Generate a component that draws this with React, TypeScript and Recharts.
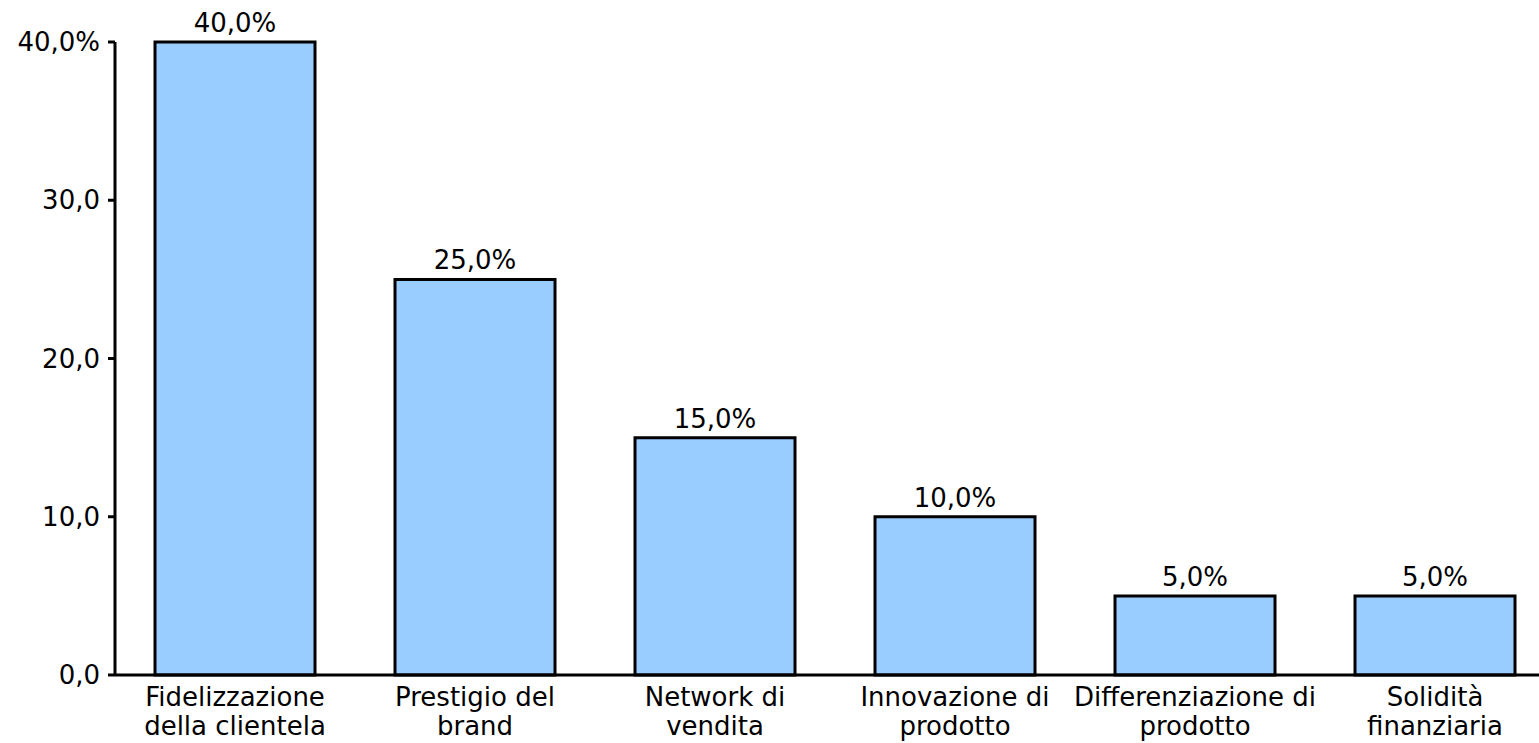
import React from 'react';
import { BarChart, Bar, XAxis, YAxis, LabelList } from 'recharts';

const categories = [
  'Fidelizzazione\ndella clientela',
  'Prestigio del\nbrand',
  'Network di\nvendita',
  'Innovazione di\nprodotto',
  'Differenziazione di\nprodotto',
  'Solidità\nfinanziaria',
];
const shares = [40, 25, 15, 10, 5, 5];
const yTicks = [0, 10, 20, 30, 40];

const data = categories.map((name, i) => ({ name, value: shares[i] }));

const FONT = 'Verdana, "DejaVu Sans", sans-serif';
const fmt = (v: number) => v.toFixed(1).replace('.', ',');

// two-line category labels; y arrives as axis + tickSize + tickMargin (683)
const CategoryTick = (props: any) => {
  const { x, y, payload } = props;
  const lines = String(payload.value).split('\n');
  return (
    <text x={x} y={y} textAnchor="middle" fontSize={26} fontFamily={FONT} fill="#000">
      {lines.map((l, i) => (
        <tspan key={i} x={x} y={y + 23 + i * 29}>{l}</tspan>
      ))}
    </text>
  );
};

export default function App() {
  return (
    <div style={{ position: 'fixed', left: 0, top: 0, width: 1539, height: 743, overflow: 'hidden', background: '#fff' }}>
      <BarChart
        width={1560}
        height={743}
        data={data}
        margin={{ top: 42, right: 5, left: 0, bottom: 0 }}
        barCategoryGap="16.67%"
      >
        <XAxis
          dataKey="name"
          height={68}
          interval={0}
          tickLine={false}
          axisLine={{ stroke: '#000', strokeWidth: 3 }}
          tick={<CategoryTick />}
        />
        <YAxis
          width={115}
          domain={[0, 40]}
          ticks={yTicks}
          tickSize={7}
          tickMargin={8}
          axisLine={{ stroke: '#000', strokeWidth: 3 }}
          tickLine={{ stroke: '#000', strokeWidth: 3 }}
          tick={{ fill: '#000', fontSize: 26, fontFamily: FONT }}
          tickFormatter={(v: number) => (v === 40 ? `${fmt(v)}%` : fmt(v))}
        />
        <Bar dataKey="value" fill="#99CCFF" stroke="#000" strokeWidth={3} isAnimationActive={false}>
          <LabelList
            dataKey="value"
            position="top"
            offset={10}
            formatter={(v: any) => `${fmt(Number(v))}%`}
            style={{ fill: '#000', fontSize: 26, fontFamily: FONT }}
          />
        </Bar>
      </BarChart>
    </div>
  );
}
